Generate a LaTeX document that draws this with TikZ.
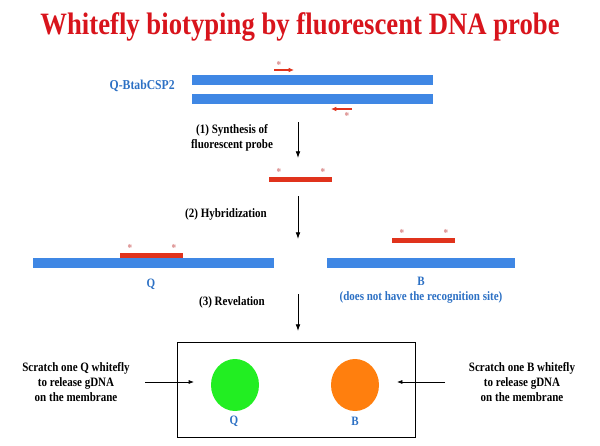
\documentclass[tikz,border=0pt]{standalone}
\usepackage{fontspec}
\setmainfont[FakeStretch=0.86]{Liberation Serif}
\usetikzlibrary{arrows.meta}
\definecolor{ttlred}{HTML}{D8141C}
\definecolor{txtblue}{HTML}{2C70C4}
\definecolor{barblue}{HTML}{3F87E4}
\definecolor{barred}{HTML}{E0331C}
\definecolor{starpink}{HTML}{D98585}
\definecolor{dotgreen}{HTML}{22EE22}
\definecolor{dotorange}{HTML}{FF7F0E}
\tikzset{
  bluebar/.style={fill=barblue,draw=none},
  redbar/.style={fill=barred,draw=none},
  star/.style={text=starpink,font=\fontsize{8}{8}\selectfont\bfseries,inner sep=0pt},
  lbl/.style={font=\fontsize{9.6}{11.5}\selectfont\bfseries,align=center,inner sep=0pt},
  bluelbl/.style={lbl,text=txtblue},
  stepArrow/.style={-{Latex[length=5pt,width=3.5pt]},line width=0.6pt},
  primer/.style={barred,line width=1.1pt,-{Latex[length=4pt,width=3.5pt]}},
}
\begin{document}
\begin{tikzpicture}[x=0.75pt,y=-0.75pt]
\useasboundingbox (0,0) rectangle (600,446);
% title
\node[text=ttlred,font=\fontsize{23.3}{26}\selectfont\bfseries,inner sep=0pt] (title) at (300,27) {Whitefly biotyping by fluorescent DNA probe};
% gene
\node[bluelbl,anchor=east,font=\fontsize{10.2}{12}\selectfont\bfseries] (gene) at (175,86) {Q-BtabCSP2};
\fill[bluebar] (192,75) rectangle (433,85);
\fill[bluebar] (192,94) rectangle (433,104);
\coordinate (f1) at (274,70); \coordinate (f2) at (294,70);
\draw[primer] (f1) -- (f2);
\node[star] (s1) at (279,65) {*};
\coordinate (r1) at (352,109); \coordinate (r2) at (331,109);
\draw[primer] (r1) -- (r2);
\node[star] (s2) at (347,116) {*};
% step 1
\coordinate (a1s) at (298,122); \coordinate (a1e) at (298,158);
\draw[stepArrow] (a1s) -- (a1e);
\node[lbl] (l1) at (232,138) {(1) Synthesis of\\fluorescent probe};
% probe
\fill[redbar] (269,177) rectangle (332,182);
\node[star] (s3) at (279,172) {*};
\node[star] (s4) at (323,172) {*};
% step 2
\coordinate (a2s) at (298,196); \coordinate (a2e) at (298,239);
\draw[stepArrow] (a2s) -- (a2e);
\node[lbl] (l2) at (226,214) {(2) Hybridization};
% Q strand
\fill[bluebar] (33,258) rectangle (274,268);
\fill[redbar] (120,252.5) rectangle (183,258);
\node[star] (s5) at (130,248) {*};
\node[star] (s6) at (174,248) {*};
\node[bluelbl] (q) at (151,284) {Q};
% B strand
\fill[bluebar] (327,258) rectangle (515,268);
\fill[redbar] (392,238) rectangle (455,243);
\node[star] (s7) at (402,233) {*};
\node[star] (s8) at (446,233) {*};
\node[bluelbl] (b) at (421,290) {B\\(does not have the recognition site)};
% step 3
\coordinate (a3s) at (298,294); \coordinate (a3e) at (298,331);
\draw[stepArrow] (a3s) -- (a3e);
\node[lbl] (l3) at (232,302) {(3) Revelation};
% membrane
\draw[line width=0.6pt] (177,342) rectangle (415,437);
\fill[dotgreen] (235,385) ellipse (24 and 26);
\fill[dotorange] (355,385) ellipse (24 and 26);
\node[bluelbl] (mq) at (234,421) {Q};
\node[bluelbl] (mb) at (355,421) {B};
\node[lbl] (sq) at (76,382) {Scratch one Q whitefly\\to release gDNA\\on the membrane};
\node[lbl] (sb) at (522,382) {Scratch one B whitefly\\to release gDNA\\on the membrane};
\coordinate (qs) at (145,382); \coordinate (qe) at (194,382);
\coordinate (bs) at (445,382); \coordinate (be) at (397,382);
\draw[-{Latex[length=4pt,width=3pt]},line width=0.5pt] (qs) -- (qe);
\draw[-{Latex[length=4pt,width=3pt]},line width=0.5pt] (bs) -- (be);
\end{tikzpicture}
\end{document}
